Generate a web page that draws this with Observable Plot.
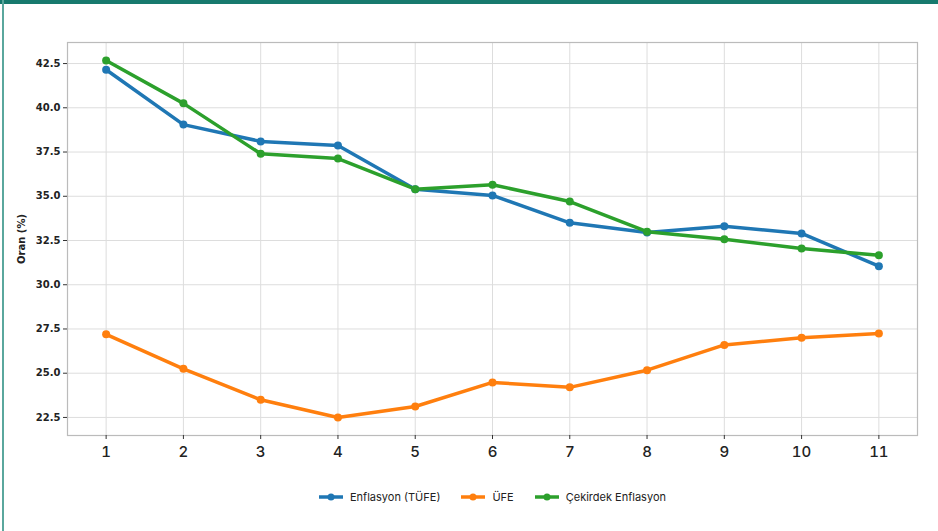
<!DOCTYPE html>
<html>
<head>
<meta charset="utf-8">
<script src="https://cdn.jsdelivr.net/npm/d3@7"></script>
<script src="https://cdn.jsdelivr.net/npm/@observablehq/plot@0.6"></script>
<style>
  html, body { margin: 0; padding: 0; background: #fff; }
  #wrap { position: relative; width: 938px; height: 531px; overflow: hidden; background: #fff; }
  #topbar { position: absolute; left: 0; top: 0; width: 938px; height: 4px; background: #177a6e; }
  #leftbar { position: absolute; left: 2px; top: 0; width: 2px; height: 531px; background: #5aa79d; }
  #chart { position: absolute; left: 0; top: 0; }
  #legend { position: absolute; top: 490px; left: 0; width: 938px; display: flex; justify-content: center; padding-left: 46px; box-sizing: border-box;
            font-family: Inter, "Open Sans", sans-serif; font-size: 11px; color: #222; gap: 20px; align-items: center; }
  .item { display: flex; align-items: center; gap: 6px; }
</style>
</head>
<body>
<div id="wrap">
  <div id="chart"></div>
  <div id="topbar"></div>
  <div id="leftbar"></div>
  <div id="legend"></div>
</div>
<script>
const periods = [1, 2, 3, 4, 5, 6, 7, 8, 9, 10, 11];
const tufe = [42.15, 39.05, 38.1, 37.87, 35.4, 35.05, 33.5, 32.95, 33.3, 32.9, 31.05];
const ufe = [27.2, 25.25, 23.5, 22.5, 23.12, 24.48, 24.2, 25.17, 26.6, 27.0, 27.25];
const cekirdek = [42.67, 40.25, 37.4, 37.13, 35.4, 35.65, 34.7, 33.0, 32.57, 32.05, 31.66];
const seriesNames = ["Enflasyon (TÜFE)", "ÜFE", "Çekirdek Enflasyon"];
const seriesColors = ["#1f77b4", "#ff7f0e", "#2ca02c"];
const yTicks = [22.5, 25.0, 27.5, 30.0, 32.5, 35.0, 37.5, 40.0, 42.5];

const seriesValues = [tufe, ufe, cekirdek];
const data = [];
seriesNames.forEach((name, i) => {
  periods.forEach((p, j) => data.push({ period: p, value: seriesValues[i][j], series: name }));
});

const plot = Plot.plot({
  width: 938,
  height: 470,
  marginLeft: 67,
  marginRight: 21,
  marginTop: 42,
  marginBottom: 35,
  x: { domain: [0.5, 11.5] },
  y: { domain: [21.48, 43.69] },
  color: { domain: seriesNames, range: seriesColors },
  marks: [
    Plot.gridX(periods, { stroke: "#ddd", strokeOpacity: 1, strokeWidth: 1 }),
    Plot.gridY(yTicks, { stroke: "#ddd", strokeOpacity: 1, strokeWidth: 1 }),
    Plot.frame({ stroke: "#bbb", strokeWidth: 1.2 }),
    Plot.axisX(periods, { tickSize: 4, tickFormat: d => String(d), label: null, fontSize: 15, fontFamily: "Inter, sans-serif", fontWeight: 500, fill: "#222", tickPadding: 7, stroke: "#333" }),
    Plot.axisY(yTicks, { tickSize: 4, tickFormat: d => d.toFixed(1), label: "Oran (%)", labelAnchor: "center", labelArrow: "none", labelOffset: 50, fontSize: 10, fontFamily: "DejaVu Sans, sans-serif", fontWeight: "bold", fill: "#222", tickPadding: 3, stroke: "#333" }),
    Plot.line(data, { x: "period", y: "value", z: "series", stroke: "series", strokeWidth: 3.5 }),
    Plot.dot(data, { x: "period", y: "value", fill: "series", r: 4 })
  ]
});
document.getElementById("chart").appendChild(plot);

const lg = document.getElementById("legend");
seriesNames.forEach((name, i) => {
  const it = document.createElement("div");
  it.className = "item";
  it.innerHTML = `<svg width="26" height="10"><line x1="1" y1="5" x2="25" y2="5" stroke="${seriesColors[i]}" stroke-width="3.5"/><circle cx="13" cy="5" r="3.5" fill="${seriesColors[i]}"/></svg><span>${name}</span>`;
  lg.appendChild(it);
});
</script>
</body>
</html>
